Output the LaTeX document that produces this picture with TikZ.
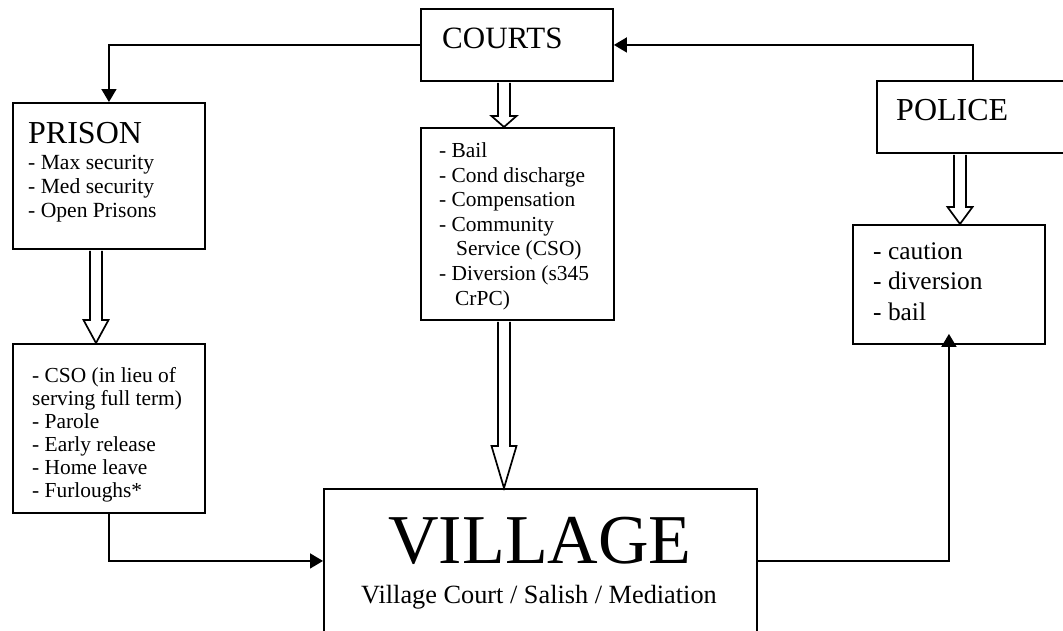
\documentclass[tikz,border=0pt]{standalone}
\usepackage{fontspec}
\setmainfont{Liberation Serif}
\usetikzlibrary{arrows.meta,calc}
\tikzset{
  box/.style={draw, line width=1.9pt, inner sep=0pt, anchor=north west},
  conn/.style={line width=1.7pt, -{Triangle[length=13pt,width=15pt]}},
  blk/.style={draw, line width=1.7pt, fill=white, line join=miter},
  txt/.style={inner sep=0pt, anchor=base west, align=left},
  ctxt/.style={inner sep=0pt, anchor=base},
}
\newcommand\blockarr[4]{%
  \pgfmathsetmacro\bxl{#1-6}\pgfmathsetmacro\bxr{#1+6}%
  \pgfmathsetmacro\bhl{#1-12.5}\pgfmathsetmacro\bhr{#1+12.5}%
  \draw[blk] ($(\bxl,0 |- #2)+(0,1)$) -- ($(\bxl,0 |- #3)+(0,-#4)$)
    -- ($(\bhl,0 |- #3)+(0,-#4)$) -- (#1,0 |- #3)
    -- ($(\bhr,0 |- #3)+(0,-#4)$) -- ($(\bxr,0 |- #3)+(0,-#4)$)
    -- ($(\bxr,0 |- #2)+(0,1)$);}
\begin{document}
\begin{tikzpicture}[x=1pt,y=-1pt]
\useasboundingbox (0,0) rectangle (1063,630);
\clip (0,0) rectangle (1063,630);
% boxes
\node[box, minimum width=192pt, minimum height=72pt]  (courts)  at (420,8)   {};
\node[box, minimum width=192pt, minimum height=146pt] (prison)  at (12,102)  {};
\node[box, minimum width=193pt, minimum height=192pt] (csub)    at (420,127) {};
\node[box, minimum width=192pt, minimum height=72pt]  (police)  at (876,80)  {};
\node[box, minimum width=192pt, minimum height=169pt] (psub)    at (12,343)  {};
\node[box, minimum width=192pt, minimum height=119pt] (polsub)  at (852,224) {};
\node[box, minimum width=433pt, minimum height=144pt] (village) at (323,488) {};
% texts
\node[txt, font=\fontsize{31}{31}\selectfont] (tcourts) at (442,48) {COURTS};
\node[txt, font=\fontsize{32}{32}\selectfont] (tprison) at (28,143) {PRISON};
\node[txt] (tprisonitems) at (28,169) {\parbox[t]{175pt}{\fontsize{21.6}{24}\selectfont\raggedright
  - Max security\\- Med security\\- Open Prisons}};
\node[txt, font=\fontsize{32}{32}\selectfont] (tpolice) at (896,120) {POLICE};
\node[txt] (tcsub) at (439,157.5) {\parbox[t]{175pt}{\fontsize{21.4}{24.6}\selectfont\raggedright
  - Bail\\- Cond discharge\\- Compensation\\- Community\\\hspace*{17pt}Service (CSO)\\- Diversion (s345\\\hspace*{16pt}CrPC)}};
\node[txt] (tpsub) at (32,382) {\parbox[t]{175pt}{\fontsize{21.4}{23}\selectfont\raggedright
  - CSO (in lieu of\\serving full term)\\- Parole\\- Early release\\- Home leave\\- Furloughs*}};
\node[txt] (tpolsub) at (873,259) {\parbox[t]{175pt}{\fontsize{25.4}{30.5}\selectfont\raggedright
  - caution\\- diversion\\- bail}};
\node[ctxt, font=\fontsize{70}{70}\selectfont] (tvillage) at (540,563) {VILLAGE};
\node[ctxt, font=\fontsize{26.3}{26.3}\selectfont] (tvillagesub) at (539,603) {Village Court / Salish / Mediation};
% connectors
\draw[conn] (courts.west) -| (prison.north);
\draw[conn] (police.north) |- (courts.east);
\draw[conn] (psub.south) |- (village.west);
\draw[conn, shorten >=-11pt] (village.east) -| (polsub.south);
% block arrows
\blockarr{504}{courts.south}{csub.north}{11}
\blockarr{96}{prison.south}{psub.north}{23}
\blockarr{504}{csub.south}{village.north}{42}
\blockarr{960}{police.south}{polsub.north}{17}
\end{tikzpicture}
\end{document}
